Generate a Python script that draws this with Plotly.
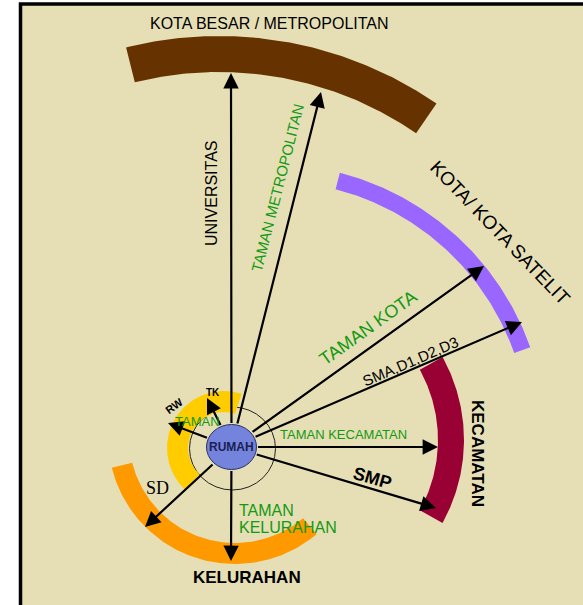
import numpy as np
import plotly.graph_objects as go

# ---------------- data ----------------
zone_names = ["", "KELURAHAN", "KECAMATAN", "KOTA/ KOTA SATELIT", "KOTA BESAR / METROPOLITAN"]
zone_colors = ["#FFCC00", "#FF9900", "#990033", "#9966FF", "#663300"]
# ring geometry (centre x, centre y, inner r, outer r, start angle, end angle) in picture pixels
zone_cx = [224, 235, 293, 271, 219]
zone_cy = [448, 437, 440, 439, 420]
zone_rin = [36, 106, 145, 258, 348]
zone_rout = [57, 127, 171, 275, 384]
zone_a0 = [72, 194, -29, 19.5, 55.5]
zone_a1 = [227, 310, 29, 75.5, 104]

home_label = "RUMAH"
home_x, home_y = 231.5, 447
home_rx, home_ry = 25, 22.5

arrow_names = ["UNIVERSITAS", "TAMAN METROPOLITAN", "TAMAN KOTA", "SMA,D1,D2,D3",
               "TAMAN KECAMATAN", "SMP", "KELURAHAN", "SD", "RW", "TK"]
arrow_tip_x = [231, 321, 484, 522, 438, 436, 231, 145, 168, 207]
arrow_tip_y = [73, 92, 266, 322, 447, 508, 561, 527, 423, 398]

W, H = 583, 605
BG = "#E6DFB6"
GREEN = "#129A12"
SANS = "Liberation Sans, Arial, sans-serif"
SERIF = "Liberation Serif, Times New Roman, serif"

fig = go.Figure()


def arc_poly(cx, cy, rin, rout, a0, a1, n=120):
    t = np.radians(np.linspace(a0, a1, n))
    xo = cx + rout * np.cos(t)
    yo = cy - rout * np.sin(t)
    xi = cx + rin * np.cos(t[::-1])
    yi = cy - rin * np.sin(t[::-1])
    return np.concatenate([xo, xi, xo[:1]]), np.concatenate([yo, yi, yo[:1]])


for i in range(len(zone_colors)):
    xs, ys = arc_poly(zone_cx[i], zone_cy[i], zone_rin[i], zone_rout[i], zone_a0[i], zone_a1[i])
    fig.add_trace(go.Scatter(x=xs, y=ys, mode="lines", fill="toself",
                             fillcolor=zone_colors[i], line=dict(width=0, color=zone_colors[i]),
                             hoverinfo="skip", showlegend=False))

shapes = [
    dict(type="rect", xref="x", yref="y", x0=20.5, y0=4, x1=720, y1=720,
         fillcolor=BG, line=dict(color="black", width=3.5), layer="below"),
    dict(type="circle", xref="x", yref="y", x0=home_x - 42, x1=home_x + 44, y0=home_y - 40, y1=home_y + 43,
         line=dict(color="#222222", width=1), layer="below"),
    dict(type="circle", xref="x", yref="y", x0=home_x - home_rx, x1=home_x + home_rx,
         y0=home_y - home_ry, y1=home_y + home_ry,
         fillcolor="#7483DB", line=dict(color="#2A2F6A", width=1), layer="above"),
]

annotations = []
# arrows from edge of the home circle to each facility
for tx, ty in zip(arrow_tip_x, arrow_tip_y):
    dx, dy = tx - home_x, ty - home_y
    ang = np.arctan2(dy / home_ry, dx / home_rx)
    sx = home_x + home_rx * np.cos(ang)
    sy = home_y + home_ry * np.sin(ang)
    annotations.append(dict(x=tx, y=ty, ax=sx, ay=sy, xref="x", yref="y", axref="x", ayref="y",
                            text="", showarrow=True, arrowhead=2, arrowsize=1.4,
                            arrowwidth=2.2, arrowcolor="black", standoff=0))


def label(text, x, y, size, color="black", angle=0, bold=False, family=SANS, xanchor="center"):
    t = f"<b>{text}</b>" if bold else text
    annotations.append(dict(x=x, y=y, xref="x", yref="y", text=t, showarrow=False,
                            textangle=angle, xanchor=xanchor,
                            font=dict(size=size, color=color, family=family)))


label(zone_names[4], 269, 23, 16)
label(zone_names[3], 500, 232, 19, angle=46)
label(zone_names[2], 478, 453, 17, angle=90, bold=True)
label(zone_names[1], 247, 577, 17, bold=True)

label(arrow_names[0], 211, 193, 16, angle=-90)
label(arrow_names[1], 277, 188, 15, color=GREEN, angle=-75.7)
label(arrow_names[2], 368, 328, 18, color=GREEN, angle=-35.5)
label(arrow_names[3], 410, 361, 15, angle=-23.5)
label(arrow_names[4], 343, 434, 13, color=GREEN)
label(arrow_names[5], 372, 478, 18, angle=16, bold=True)
label(arrow_names[7], 157, 488, 18, family=SERIF)
label(arrow_names[8], 174, 406, 11, angle=-36, bold=True)
label(arrow_names[9], 213, 392, 10, bold=True)
label("TAMAN", 197, 421, 13, color=GREEN)
label("TAMAN", 237, 510, 16, color=GREEN, xanchor="left")
label("KELURAHAN", 237, 527, 16, color=GREEN, xanchor="left")
label(home_label, home_x, home_y, 12, color="#1A1F55", bold=True)

fig.update_layout(
    width=W, height=H, margin=dict(l=0, r=0, t=0, b=0),
    paper_bgcolor="white", plot_bgcolor="white",
    xaxis=dict(range=[0, W], visible=False, fixedrange=True),
    yaxis=dict(range=[H, 0], visible=False, fixedrange=True),
    shapes=shapes, annotations=annotations, showlegend=False,
)

fig.write_html("out.html", config={"displayModeBar": False},
               post_script="document.body.style.margin='0';")
